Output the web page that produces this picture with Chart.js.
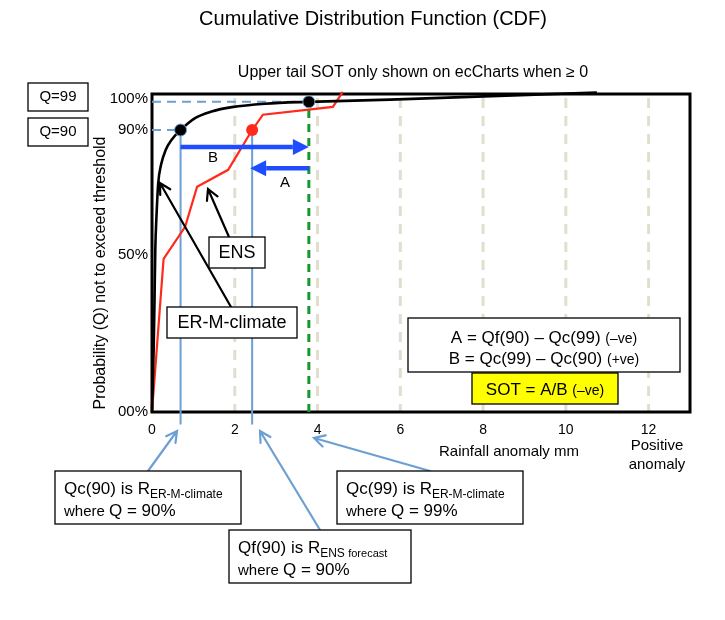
<!doctype html>
<html lang="en">
<head>
<meta charset="UTF-8" />
<title>Cumulative Distribution Function (CDF)</title>
<style>
  html, body { margin: 0; padding: 0; background: #fff; }
  canvas { display: block; }
</style>
</head>
<body>
<canvas id="cdf" width="725" height="620"></canvas>
<script src="https://cdn.jsdelivr.net/npm/chart.js"></script>
<script>
// values: rainfall anomaly (mm) against probability (%)
const climateX = [0, 0.04, 0.06, 0.08, 0.11, 0.15, 0.22, 0.33, 0.48, 0.69, 1.04, 1.44, 1.93, 2.73, 3.79, 5.75, 10.75];
const climateY = [0, 20, 35, 52, 63, 73, 79, 83.6, 87, 90, 93.8, 95.9, 97.3, 98.4, 99, 99.7, 102];
const ensX = [0, 0.28, 0.80, 1.09, 1.84, 2.42, 2.68, 4.37, 4.61];
const ensY = [0, 48.9, 59.1, 71.9, 77.3, 90, 94.9, 97.4, 102.2];
const qc90 = 0.69, qc99 = 3.79, qf90 = 2.42;
const arrowBy = 84.6, arrowAy = 77.8;
const xTicks = [0, 2, 4, 6, 8, 10, 12];
const yTicks = [0, 50, 90, 100];
const yTickLabels = ['00%', '50%', '90%', '100%'];

const FONT = '"Liberation Sans", Arial, sans-serif';
const STEEL = '#6c9fd3';
const BLUE = '#1f4cff';

function pts(xs, ys) { return xs.map((x, i) => ({ x: x, y: ys[i] })); }

function rect(ctx, x, y, w, h, fill) {
  ctx.save();
  ctx.fillStyle = fill || '#fff';
  ctx.fillRect(x, y, w, h);
  ctx.strokeStyle = '#000';
  ctx.lineWidth = 1.3;
  ctx.strokeRect(x, y, w, h);
  ctx.restore();
}

// runs of text with different sizes on one baseline
function runs(ctx, parts, x, y, align) {
  ctx.save();
  ctx.fillStyle = '#000';
  ctx.textBaseline = 'alphabetic';
  ctx.textAlign = 'left';
  let total = 0;
  parts.forEach(p => { ctx.font = p[1] + 'px ' + FONT; total += ctx.measureText(p[0]).width; });
  let cx = align === 'center' ? x - total / 2 : x;
  parts.forEach(p => {
    ctx.font = p[1] + 'px ' + FONT;
    ctx.fillText(p[0], cx, y + (p[2] || 0));
    cx += ctx.measureText(p[0]).width;
  });
  ctx.restore();
}

function text(ctx, s, x, y, size) {
  ctx.save();
  ctx.fillStyle = '#000';
  ctx.font = size + 'px ' + FONT;
  ctx.textAlign = 'center';
  ctx.textBaseline = 'middle';
  ctx.fillText(s, x, y);
  ctx.restore();
}

function openArrow(ctx, x1, y1, x2, y2, color, width) {
  const a = Math.atan2(y2 - y1, x2 - x1), L = 12, sp = 0.5;
  ctx.save();
  ctx.strokeStyle = color;
  ctx.lineWidth = width;
  ctx.lineCap = 'round';
  ctx.beginPath();
  ctx.moveTo(x1, y1); ctx.lineTo(x2, y2);
  ctx.moveTo(x2 - L * Math.cos(a - sp), y2 - L * Math.sin(a - sp));
  ctx.lineTo(x2, y2);
  ctx.lineTo(x2 - L * Math.cos(a + sp), y2 - L * Math.sin(a + sp));
  ctx.stroke();
  ctx.restore();
}

function fatArrow(ctx, x1, y, x2) {
  const dir = Math.sign(x2 - x1), L = 16, W = 8;
  ctx.save();
  ctx.strokeStyle = BLUE; ctx.fillStyle = BLUE; ctx.lineWidth = 4.5;
  ctx.beginPath();
  ctx.moveTo(x1, y); ctx.lineTo(x2 - dir * L, y);
  ctx.stroke();
  ctx.beginPath();
  ctx.moveTo(x2, y);
  ctx.lineTo(x2 - dir * L, y - W);
  ctx.lineTo(x2 - dir * L, y + W);
  ctx.closePath();
  ctx.fill();
  ctx.restore();
}

const decor = {
  id: 'decor',
  beforeDatasetsDraw(chart) {
    const ctx = chart.ctx, a = chart.chartArea, xs = chart.scales.x;
    ctx.save();
    ctx.strokeStyle = '#e2dece';
    ctx.lineWidth = 3;
    ctx.setLineDash([10, 8]);
    xTicks.slice(1).forEach(v => {
      const px = xs.getPixelForValue(v);
      ctx.beginPath(); ctx.moveTo(px, a.top + 4); ctx.lineTo(px, a.bottom); ctx.stroke();
    });
    ctx.setLineDash([]);
    ctx.strokeStyle = '#000';
    ctx.lineWidth = 3;
    ctx.strokeRect(a.left, a.top, a.right - a.left, a.bottom - a.top);
    ctx.restore();
  },
  afterDatasetsDraw(chart) {
    const ctx = chart.ctx, xs = chart.scales.x, ys = chart.scales.y;
    // A and B
    fatArrow(ctx, xs.getPixelForValue(qc90), ys.getPixelForValue(arrowBy), xs.getPixelForValue(qc99));
    fatArrow(ctx, xs.getPixelForValue(qc99), ys.getPixelForValue(arrowAy), xs.getPixelForValue(qf90) - 2);
    text(ctx, 'B', 213, 158, 15);
    text(ctx, 'A', 285, 183, 15);

    // titles
    text(ctx, 'Cumulative Distribution Function (CDF)', 373, 19, 20);
    text(ctx, 'Upper tail SOT only shown on ecCharts when \u2265 0', 413, 73, 16);
    text(ctx, 'Rainfall anomaly mm', 509, 452, 15);
    text(ctx, 'Positive', 657, 446, 15);
    text(ctx, 'anomaly', 657, 465, 15);
    ctx.save();
    ctx.translate(101, 273);
    ctx.rotate(-Math.PI / 2);
    text(ctx, 'Probability (Q) not to exceed threshold', 0, 0, 16);
    ctx.restore();

    // quantile labels
    rect(ctx, 28, 83, 60, 28);
    text(ctx, 'Q=99', 58, 97, 15);
    rect(ctx, 28, 118, 60, 28);
    text(ctx, 'Q=90', 58, 132, 15);

    // curve call-outs
    openArrow(ctx, 229, 237, 208, 189, '#000', 2.2);
    openArrow(ctx, 231, 307, 160, 183, '#000', 2.2);
    rect(ctx, 209, 237, 56, 31);
    text(ctx, 'ENS', 237, 253, 18);
    rect(ctx, 167, 307, 130, 31);
    text(ctx, 'ER-M-climate', 232, 323, 18);

    // formula boxes
    rect(ctx, 408, 318, 272, 54);
    runs(ctx, [['A = Qf(90) \u2013 Qc(99) ', 17], ['(\u2013ve)', 14]], 544, 343, 'center');
    runs(ctx, [['B = Qc(99) \u2013 Qc(90) ', 17], ['(+ve)', 14]], 544, 364, 'center');
    rect(ctx, 472, 373, 146, 31, '#ffff00');
    runs(ctx, [['SOT = A/B ', 17], ['(\u2013ve)', 14]], 545, 395, 'center');

    // quantile explanations
    openArrow(ctx, 148, 471, 177, 431, STEEL, 2.2);
    openArrow(ctx, 320, 530, 260, 431, STEEL, 2.2);
    openArrow(ctx, 430, 471, 314, 438, STEEL, 2.2);
    rect(ctx, 55, 471, 186, 53);
    runs(ctx, [['Qc(90) is R', 17], ['ER-M-climate', 12, 4]], 64, 494);
    runs(ctx, [['where ', 15], ['Q = 90%', 17]], 64, 516);
    rect(ctx, 337, 471, 186, 53);
    runs(ctx, [['Qc(99) is R', 17], ['ER-M-climate', 12, 4]], 346, 494);
    runs(ctx, [['where ', 15], ['Q = 99%', 17]], 346, 516);
    rect(ctx, 229, 530, 182, 53);
    runs(ctx, [['Qf(90) is R', 17], ['ENS ', 12, 4], ['forecast', 11, 4]], 238, 553);
    runs(ctx, [['where ', 15], ['Q = 90%', 17]], 238, 575);
  }
};

const line = (data, color, width, extra) => Object.assign({
  data: data, borderColor: color, borderWidth: width, pointRadius: 0,
  showLine: true, fill: false, clip: false
}, extra || {});

new Chart(document.getElementById('cdf'), {
  type: 'scatter',
  data: {
    datasets: [
      line(pts([qc90, qc99], [90, 99]), '#000', 0, {
        showLine: false, pointRadius: 6, pointBackgroundColor: '#000',
        pointBorderColor: STEEL, pointBorderWidth: 1, order: 0
      }),
      line(pts([qf90], [90]), '#ff2a1a', 0, {
        showLine: false, pointRadius: 6, pointBackgroundColor: '#ff2a1a',
        pointBorderColor: '#ff2a1a', order: 0
      }),
      line(pts(climateX, climateY), '#000', 2.6, { cubicInterpolationMode: 'monotone', order: 1 }),
      line(pts(ensX, ensY), '#ff2a1a', 2.2, { order: 2 }),
      line(pts([0, qc90], [90, 90]), STEEL, 2, { borderDash: [9, 6], order: 5 }),
      line(pts([0, qc99], [99, 99]), STEEL, 2, { borderDash: [9, 6], order: 5 }),
      line(pts([qc90, qc90], [90, -4]), STEEL, 2, { order: 4 }),
      line(pts([qf90, qf90], [90, -4]), STEEL, 2, { order: 4 }),
      line(pts([qc99, qc99], [0, 101.5]), '#16992c', 3, { borderDash: [8, 6], order: 3 })
    ]
  },
  options: {
    responsive: false,
    animation: false,
    layout: { padding: { top: 94, right: 35, bottom: 0, left: 0 } },
    plugins: { legend: { display: false }, tooltip: { enabled: false } },
    scales: {
      x: {
        type: 'linear', min: 0, max: 13,
        grid: { display: false, drawTicks: false },
        border: { display: false },
        ticks: { color: '#000', font: { family: FONT, size: 14 }, padding: 10, maxRotation: 0 },
        afterBuildTicks: s => { s.ticks = xTicks.map(v => ({ value: v })); },
        afterFit: s => { s.height = 208; }
      },
      y: {
        type: 'linear', min: 0, max: 101.5,
        grid: { display: false, drawTicks: false },
        border: { display: false },
        ticks: { color: '#000', font: { family: FONT, size: 15 }, padding: 4,
                 callback: (v, i) => yTickLabels[i] },
        afterBuildTicks: s => { s.ticks = yTicks.map(v => ({ value: v })); },
        afterFit: s => { s.width = 152; }
      }
    }
  },
  plugins: [decor]
});
</script>
</body>
</html>
